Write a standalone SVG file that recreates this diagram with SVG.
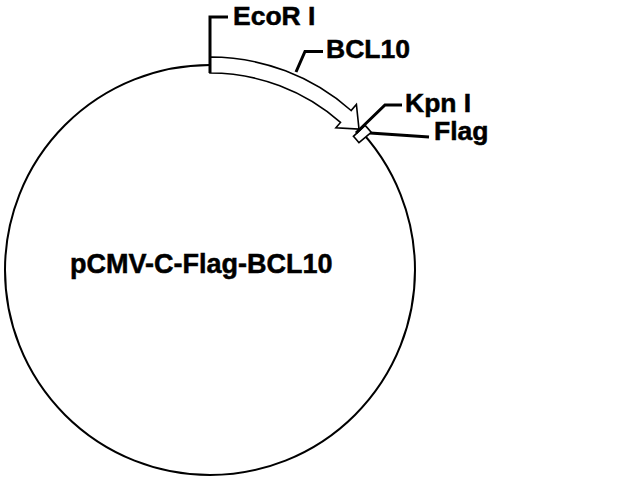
<svg xmlns="http://www.w3.org/2000/svg" width="640" height="480" viewBox="0 0 640 480">
<style>
.lbl{font-family:"Liberation Sans",Arial,sans-serif;font-weight:bold;font-size:26.5px;fill:#000;stroke:#000;stroke-width:0.5}
.title{font-family:"Liberation Sans",Arial,sans-serif;font-weight:bold;font-size:27px;fill:#000;stroke:#000;stroke-width:0.5}
.feat{fill:#fff;stroke:#000;stroke-width:1.6;stroke-linejoin:miter}
.ptr{fill:none;stroke:#000;stroke-width:3}
</style>
<rect width="640" height="480" fill="#fff"/>
<g id="plasmid">
<circle cx="210" cy="270" r="205" fill="none" stroke="#000" stroke-width="2"/>
<text class="title" x="70" y="273">pCMV-C-Flag-BCL10</text>
</g>
<g id="BCL10">
<path class="feat" d="M210,57 A213,213 0 0 1 351.1,110.5 L356.4,104.5 L359.0,129.1 L335.9,127.7 L340.5,122.4 A197,197 0 0 0 210,73 Z"/>
</g>
<g id="Flag">
<path class="feat" d="M365.1,125.4 A212,212 0 0 1 371.2,132.3 L359.0,142.7 A196,196 0 0 0 353.4,136.3 Z"/>
</g>
<g id="connectors">
<polyline class="ptr" points="210,73 210,17 228,17"/>
<polyline class="ptr" points="296,72 305,51.5 323,51.5"/>
<polyline class="ptr" points="356,133 385,105 402,105"/>
<polyline class="ptr" points="370,133 429,137"/>
</g>
<g id="labels">
<text class="lbl" x="233" y="25">EcoR I</text>
<text class="lbl" x="326" y="58">BCL10</text>
<text class="lbl" x="405" y="111.5">Kpn I</text>
<text class="lbl" x="434" y="140">Flag</text>
</g>
</svg>
